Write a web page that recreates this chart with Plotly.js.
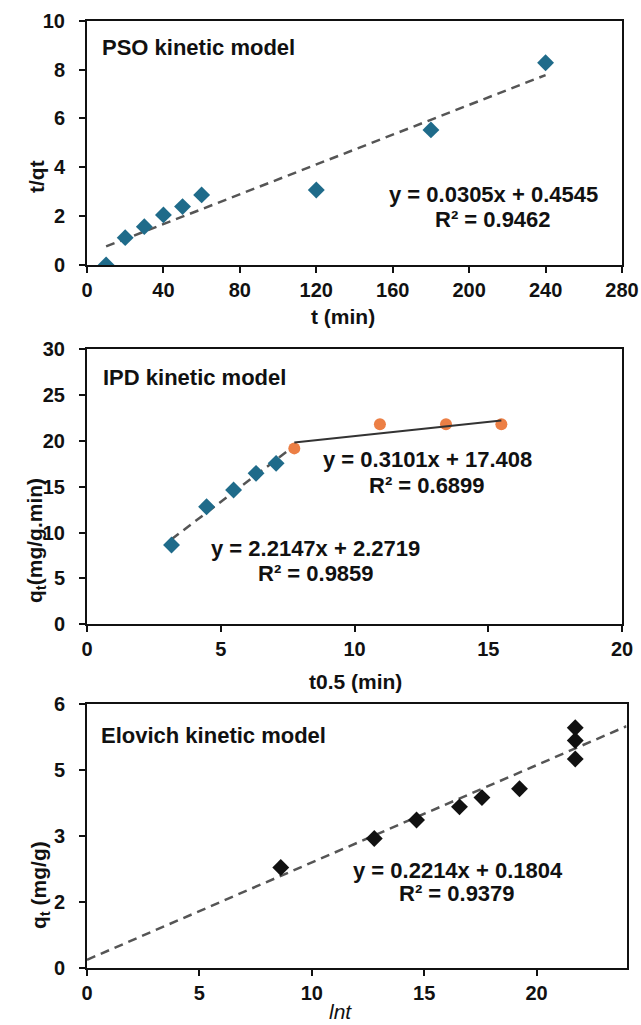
<!DOCTYPE html>
<html>
<head>
<meta charset="utf-8">
<script src="https://cdn.plot.ly/plotly-3.0.1.min.js"></script>
<style>html,body{margin:0;padding:0;background:#fff;}#chart{width:641px;height:1025px;}</style>
</head>
<body>
<div id="chart"></div>
<script>
// ---- PSO kinetic model ----
const psoT = [10, 20, 30, 40, 50, 60, 120, 180, 240];
const psoTq = [0.0, 1.12, 1.57, 2.05, 2.39, 2.87, 3.07, 5.53, 8.28];
const psoSlope = 0.0305, psoIntercept = 0.4545;
const psoEq = "y = 0.0305x + 0.4545", psoR2 = "R² = 0.9462";

// ---- IPD kinetic model ----
const ipdX1 = [3.16, 4.47, 5.48, 6.32, 7.07];
const ipdY1 = [8.64, 12.81, 14.63, 16.45, 17.54];
const ipdX2 = [7.75, 10.95, 13.42, 15.49];
const ipdY2 = [19.17, 21.79, 21.8, 21.79];
const ipdFit1 = {slope: 2.2147, intercept: 2.2719, x0: 3.16, x1: 7.75};
const ipdFit2 = {slope: 0.3101, intercept: 17.408, x0: 7.75, x1: 15.49};
const ipdEq1 = "y = 2.2147x + 2.2719", ipdR21 = "R² = 0.9859";
const ipdEq2 = "y = 0.3101x + 17.408", ipdR22 = "R² = 0.6899";

// ---- Elovich kinetic model ----
const eloX = [8.62, 12.78, 14.66, 16.57, 17.57, 19.24, 21.72, 21.72, 21.72];
const eloY = [2.28, 2.94, 3.36, 3.66, 3.87, 4.07, 4.75, 5.17, 5.46];
const eloSlope = 0.2214, eloIntercept = 0.1804, eloFitX = [0, 24];
const eloEq = "y = 0.2214x + 0.1804", eloR2 = "R² = 0.9379";
const eloYTickVals = [0, 1.5, 3, 4.5, 6];
const eloYTickText = ["0", "2", "3", "5", "6"];

const lineFit = (m, b, xs) => xs.map(x => m * x + b);

const blue = '#1f6b8a', orange = '#ec7f45', black = '#111111', gray = '#555555';
const FF = 'Liberation Sans, Arial, sans-serif';
const tickFont = {family: FF, size: 20, color: black, weight: 'bold'};
const W = 641, H = 1025;
const px = x => x / W, py = y => 1 - y / H;

const axisBase = {
  showline: true, linecolor: black, linewidth: 2, mirror: true,
  ticks: 'outside', ticklen: 6, tickwidth: 2, tickcolor: black,
  showgrid: false, zeroline: false, tickfont: tickFont, fixedrange: true
};

const diamond = c => ({symbol: 'diamond', size: 13, color: c});

const traces = [
  // PSO
  {x: [psoT[0], psoT[psoT.length - 1]], y: lineFit(psoSlope, psoIntercept, [psoT[0], psoT[psoT.length - 1]]),
   mode: 'lines', line: {color: gray, width: 2.5, dash: '9px,6px'}, xaxis: 'x', yaxis: 'y', hoverinfo: 'skip'},
  {x: psoT, y: psoTq, mode: 'markers', marker: diamond(blue), xaxis: 'x', yaxis: 'y'},
  // IPD
  {x: [ipdFit1.x0, ipdFit1.x1], y: lineFit(ipdFit1.slope, ipdFit1.intercept, [ipdFit1.x0, ipdFit1.x1]),
   mode: 'lines', line: {color: gray, width: 2.5, dash: '9px,6px'}, xaxis: 'x2', yaxis: 'y2', hoverinfo: 'skip'},
  {x: ipdX1, y: ipdY1, mode: 'markers', marker: diamond(blue), xaxis: 'x2', yaxis: 'y2'},
  {x: ipdX2, y: ipdY2, mode: 'markers', marker: {symbol: 'circle', size: 12, color: orange}, xaxis: 'x2', yaxis: 'y2'},
  {x: [ipdFit2.x0, ipdFit2.x1], y: lineFit(ipdFit2.slope, ipdFit2.intercept, [ipdFit2.x0, ipdFit2.x1]),
   mode: 'lines', line: {color: '#333333', width: 2}, xaxis: 'x2', yaxis: 'y2', hoverinfo: 'skip'},
  // Elovich
  {x: eloFitX, y: lineFit(eloSlope, eloIntercept, eloFitX),
   mode: 'lines', line: {color: gray, width: 2.5, dash: '9px,6px'}, xaxis: 'x3', yaxis: 'y3', hoverinfo: 'skip'},
  {x: eloX, y: eloY, mode: 'markers', marker: diamond(black), xaxis: 'x3', yaxis: 'y3'}
];

const ann = (text, x, y, opts) => Object.assign({
  text: text, x: px(x), y: py(y), xref: 'paper', yref: 'paper', showarrow: false,
  xanchor: 'center', yanchor: 'middle',
  font: {family: FF, size: 22, color: black, weight: 'bold'}
}, opts || {});

const titleFont = {family: FF, size: 21, color: black, weight: 'bold'};

const annotations = [
  ann('PSO kinetic model', 100, 47, {xanchor: 'left'}),
  ann(psoEq, 493, 195),
  ann(psoR2, 493, 220),
  ann('IPD kinetic model', 101, 377, {xanchor: 'left'}),
  ann(ipdEq2, 427, 460),
  ann(ipdR22, 427, 485),
  ann(ipdEq1, 315, 548),
  ann(ipdR21, 316, 573),
  ann('Elovich kinetic model', 99, 735, {xanchor: 'left'}),
  ann(eloEq, 458, 870),
  ann(eloR2, 457, 893),
  // axis titles
  ann('t (min)', 343, 316, {font: titleFont}),
  ann('t/qt', 37, 177, {textangle: -90, font: titleFont}),
  ann('t0.5 (min)', 355, 681, {font: titleFont}),
  ann('q<sub>t</sub>(mg/g.min)', 36, 541, {textangle: -90, font: titleFont}),
  ann('<i>lnt</i>', 340, 1011, {font: {family: FF, size: 21, color: black}}),
  ann('q<sub>t</sub> (mg/g)', 40, 885, {textangle: -90, font: titleFont})
];

const layout = {
  width: W, height: H, showlegend: false,
  margin: {l: 0, r: 0, t: 0, b: 0},
  paper_bgcolor: '#ffffff', plot_bgcolor: '#ffffff',
  xaxis: Object.assign({}, axisBase, {domain: [px(87), px(622)], range: [0, 280], dtick: 40, tick0: 0, anchor: 'y', ticklabelstandoff: 0}),
  yaxis: Object.assign({}, axisBase, {domain: [py(265), py(20.7)], range: [0, 10], dtick: 2, tick0: 0, anchor: 'x', ticklabelstandoff: 10}),
  xaxis2: Object.assign({}, axisBase, {domain: [px(87), px(622)], range: [0, 20], dtick: 5, tick0: 0, anchor: 'y2', ticklabelstandoff: 0}),
  yaxis2: Object.assign({}, axisBase, {domain: [py(624.3), py(349)], range: [0, 30], dtick: 5, tick0: 0, anchor: 'x2', ticklabelstandoff: 10}),
  xaxis3: Object.assign({}, axisBase, {domain: [px(87), px(626.5)], range: [0, 24], dtick: 5, tick0: 0, anchor: 'y3', ticklabelstandoff: 0}),
  yaxis3: Object.assign({}, axisBase, {domain: [py(967.7), py(704)], range: [0, 6], tickmode: 'array', tickvals: eloYTickVals, ticktext: eloYTickText, anchor: 'x3', ticklabelstandoff: 10}),
  annotations: annotations
};

Plotly.newPlot('chart', traces, layout, {staticPlot: true, displayModeBar: false});
</script>
</body>
</html>
